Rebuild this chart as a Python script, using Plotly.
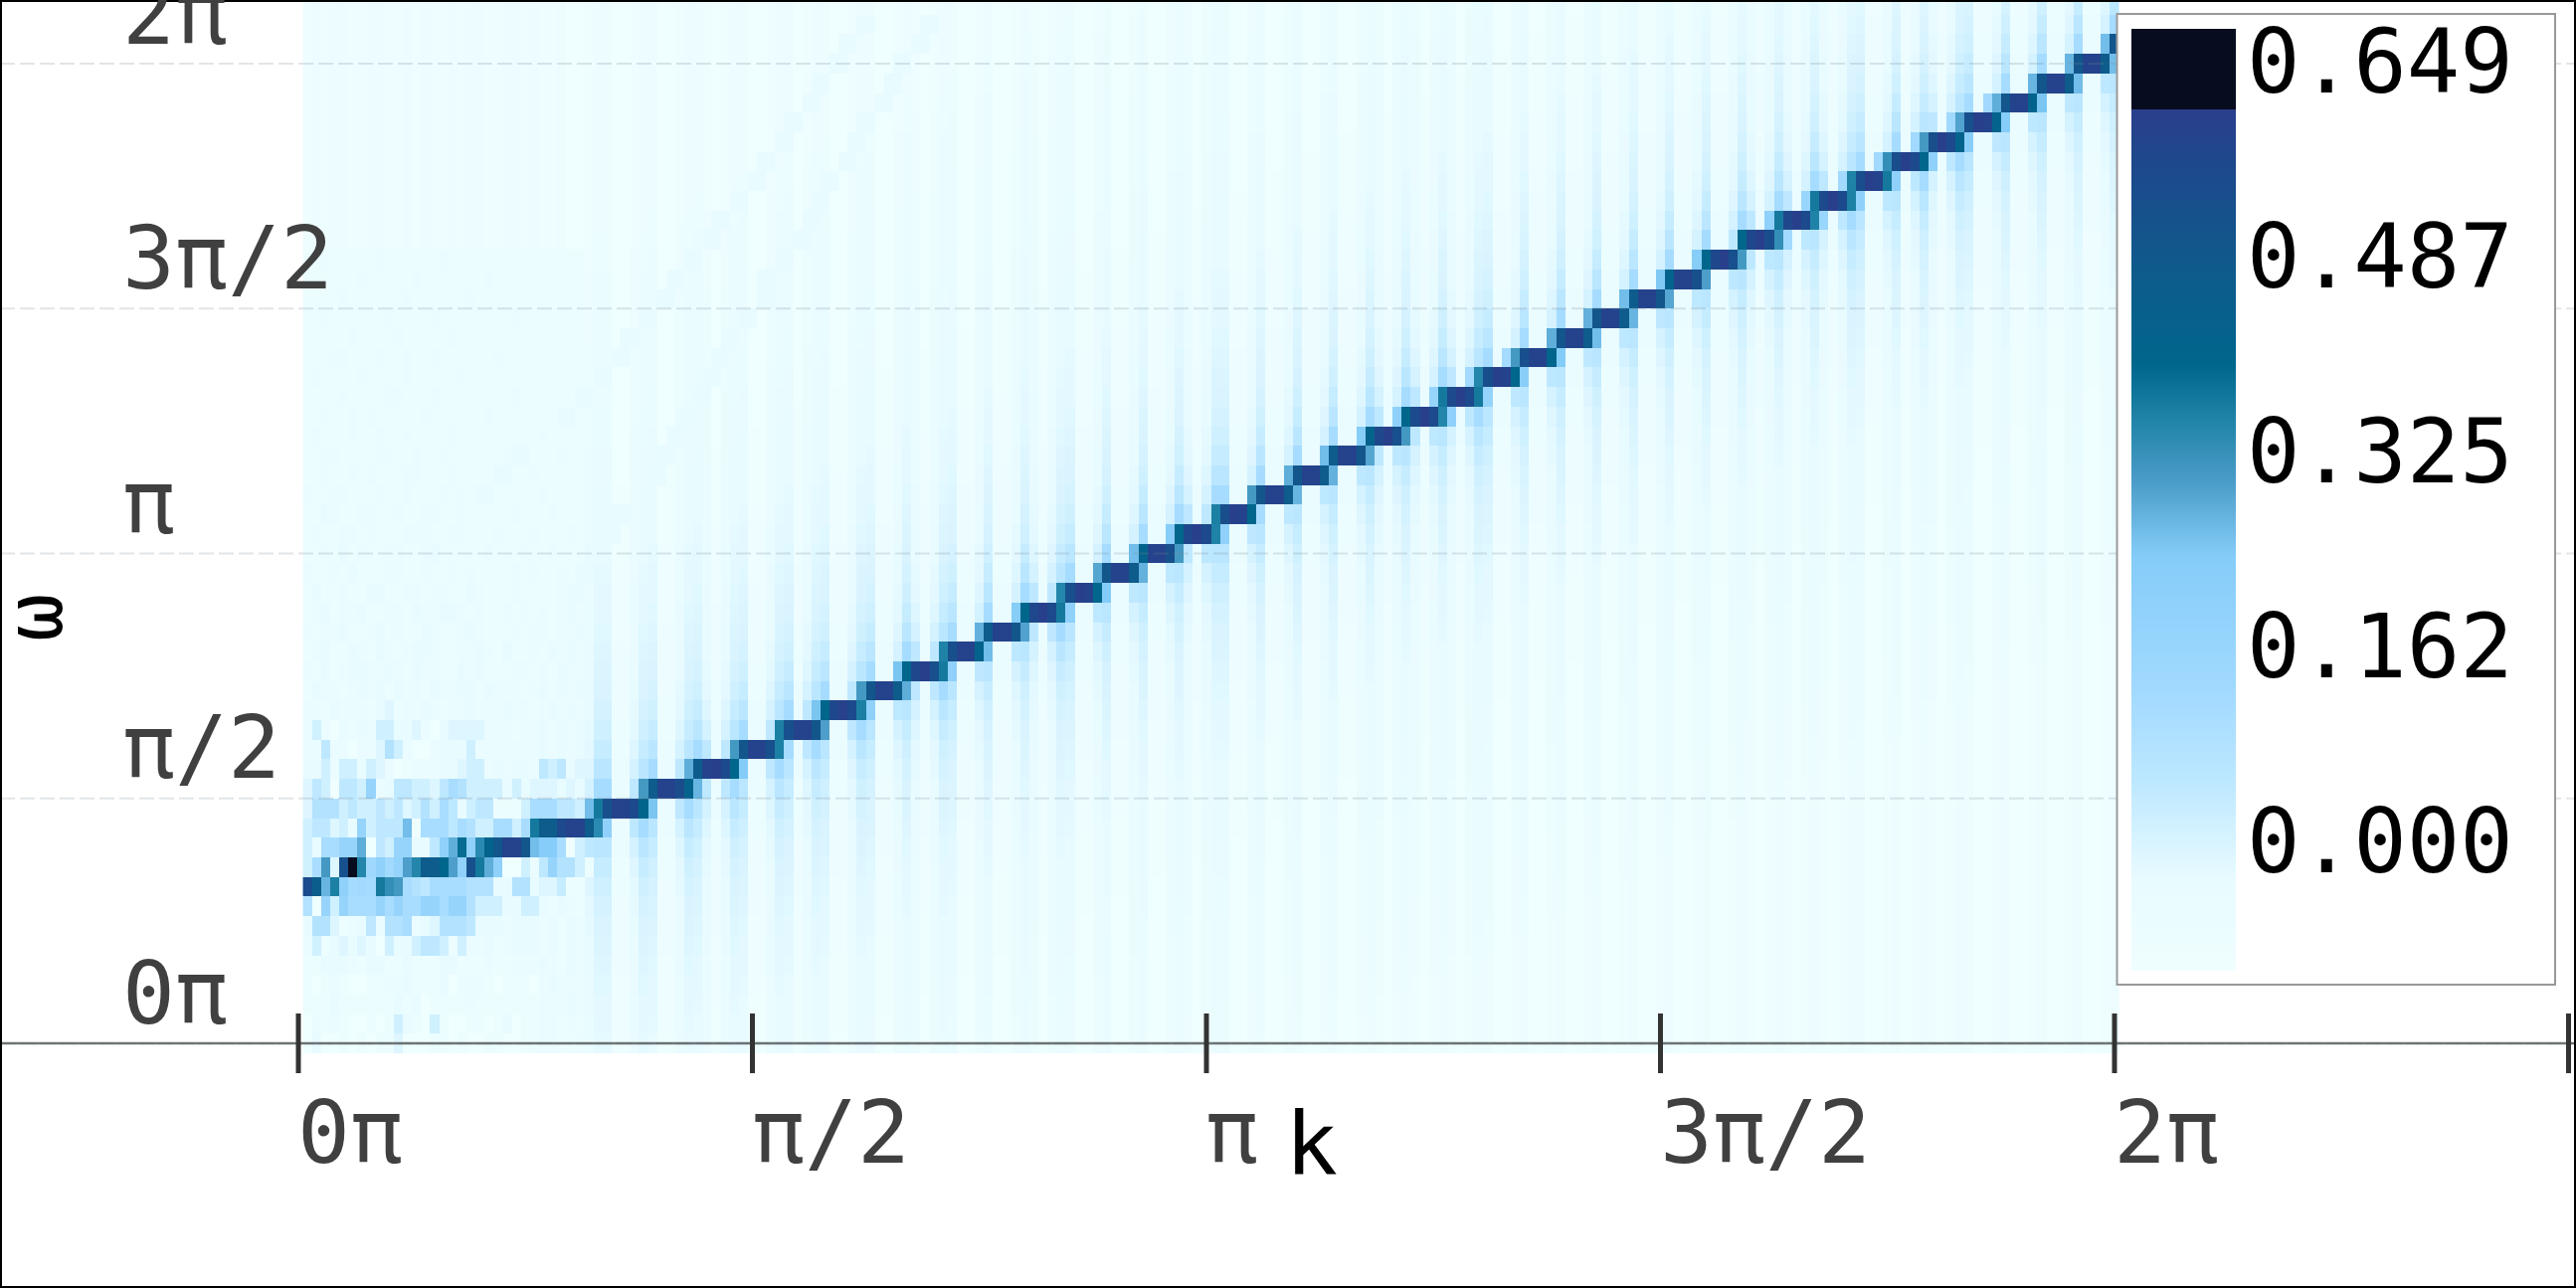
import math
import plotly.graph_objects as go

PI = math.pi
N_COLS = 200
N_ROWS = 54
DK = 2 * PI / 200
DW = 2 * PI / 50

# level codes for the pale cells, read through the colour bar
level_values = [-0.105, -0.07, -0.05, -0.03, -0.01, 0.02, 0.05, 0.08, 0.11, 0.17]

# ---- ridge: row, first column, values of consecutive cells
ridge_rows = [8, 9, 10, 10, 11, 11, 12, 13, 14, 15, 16, 17, 18, 19, 20, 21, 22, 23, 24, 25, 26, 27, 28, 29, 30,
              31, 32, 33, 34, 35, 36, 37, 38, 39, 40, 41, 42, 43, 44, 45, 46, 47, 48, 49, 50, 51]
ridge_starts = [0, 2, 6, 15, 11, 25, 31, 37, 42, 47, 52, 56, 61, 65, 70, 74, 78, 83, 87, 91, 95, 100, 104, 108, 112,
                116, 120, 124, 128, 132, 137, 141, 145, 149, 153, 158, 161, 165, 169, 173, 177, 181, 185, 190, 194, 198]
ridge_values = [
    [.55, .46, .27, .36, .20, .12, .13, .12, .37, .33, .31],
    [.31, -.01, .53, .645, .35, .14, .20, .13, .18, .30, .35, .47, .47, .40, .30, .20, .53, .37, .28, .20],
    [.28],
    [.20, .28, .39, .20, .34, .42, .50, .59, .59, .50, .26, .23, .23],
    [.26],
    [.37, .47, .47, .56, .59, .59, .47, .34, .20],
    [.26, .37, .53, .59, .59, .56, .41, .25],
    [.31, .47, .59, .59, .55, .42, .27],
    [.28, .47, .59, .605, .56, .40, .24],
    [.31, .50, .59, .59, .53, .36],
    [.36, .53, .59, .59, .50, .30],
    [.25, .41, .57, .60, .56, .36, .20],
    [.31, .50, .59, .59, .47, .28],
    [.25, .40, .57, .605, .53, .37, .20],
    [.355, .53, .59, .59, .42, .26],
    [.275, .47, .59, .59, .50, .295],
    [.235, .40, .57, .605, .558, .37, .20],
    [.35, .53, .605, .59, .40, .24],
    [.29, .50, .59, .59, .47, .275],
    [.26, .42, .59, .59, .53, .31],
    [.235, .40, .57, .605, .558, .355, .20],
    [.36, .54, .605, .59, .40],
    [.31, .50, .59, .59, .47, .27],
    [.28, .50, .59, .59, .47, .275],
    [.26, .47, .59, .59, .50, .29],
    [.235, .42, .57, .605, .53, .31],
    [.20, .40, .558, .605, .558, .35, .20],
    [.17, .37, .558, .605, .558, .37, .18],
    [.13, .35, .54, .605, .59, .40, .22],
    [.12, .31, .53, .59, .59, .41, .24],
    [.28, .50, .59, .59, .47, .26],
    [.275, .50, .59, .59, .47, .27],
    [.26, .47, .59, .59, .50, .29],
    [.245, .42, .59, .59, .53, .30],
    [.235, .40, .57, .605, .53, .31],
    [.40, .57, .605, .54, .33, .13],
    [.20, .37, .57, .605, .558, .355, .16],
    [.16, .37, .558, .605, .558, .36, .20],
    [.13, .355, .54, .605, .59, .37, .20],
    [.13, .33, .54, .605, .558, .40, .20],
    [.13, .31, .54, .605, .558, .42, .22],
    [.13, .295, .53, .605, .59, .42, .23],
    [.13, .28, .50, .59, .59, .42, .25],
    [.27, .50, .59, .59, .47, .26],
    [.27, .50, .59, .59, .47, .26],
    [.26, .50],
]

# ---- vertical stripes: per column, 0 = pale stripe, 1 = middle, 3 = strong
column_tone = (
    "1313311331" "1313113133" "1133131130" "0133001330" "0133101330"
    "0133013300" "1330013101" "3300130013" "1013300130" "0130013101"
    "3300130013" "0013001310" "1310131013" "3001300130" "0130013001"
    "3001300131" "0131013101" "3300130131" "0133001300" "1300130013"
)

# ---- value by distance (rows) from the ridge, for each stripe tone; last entry holds for farther rows
halo_tone0 = [-.05, -.065, -.07, -.075, -.08, -.08, -.085, -.085, -.09, -.09, -.09, -.09, -.095, -.095, -.095,
              -.095, -.10, -.10, -.10, -.10, -.10, -.10, -.10, -.10, -.10, -.105, -.105, -.105, -.105, -.105]
halo_tone1 = [.05, .01, -.01, -.02, -.025, -.03, -.035, -.04, -.04, -.045, -.045, -.05, -.05, -.055, -.055,
              -.06, -.06, -.065, -.065, -.07, -.07, -.07, -.075, -.075, -.08, -.08, -.085, -.085, -.09, -.09]
halo_tone3 = [.115, .06, .035, .02, .01, .0, -.005, -.01, -.015, -.02, -.02, -.025, -.03, -.03, -.035,
              -.035, -.04, -.04, -.045, -.045, -.05, -.05, -.055, -.055, -.06, -.06, -.065, -.07, -.075, -.08]

# ---- low-k block: level codes per row, from k = first column onward
low_k_rows = [
    "0300101011400011010011001122112",
    "0212100101531051001101301122121",
    "1113111111313011112111111122232",
    "1012100112231113022210111023222",
    "1133321331131113311121122232132",
    "2513434305335665152231233323132",
    "3774123627782347776333233323132",
    "7095988898988998997555335531321",
    "00000000000876888877733773",
    "58010000898920000000000052697751",
    "5388990065993366999000000000805",
    "5664539566650888687558858500000",
    "4777565565645758635661115888665",
    "4650665923665546875555353444343",
    "3352553542012223345523233265634",
    "2262202247520023335222222232323",
    "2520323255334203444422212232323",
    "2213222134122321223222322123232",
    "1322123231322132233132221232323",
    "2131233223213221132311122121322",
    "1231132132123321122321311213232",
    "2122311231211321123211121221223",
    "1231223112213223321211212121232",
    "1311211331122122113211121111212",
    "2112131112211211212111121211211",
    "1121312112211231111121112112111",
    "1211221211122211221112111211121",
    "1132112211211221121111121112111",
    "2112211121121112121121111121111",
    "1121121211122111211112111211111",
    "1122111122112112111111211111211",
    "1211121121121111211111111121111",
    "1121121211111211111121111111111",
    "1111211112211121111111121111111",
    "1211112111121111121111111111111",
    "1112211121121121111112111111111",
    "1111121111211111211111111111111",
    "1121111112111121111111121111111",
    "1111211111121111112111111111111",
    "1111112111112111111121111111111",
    "1121111121111112111111111111111",
]

# ---- faint secondary lines in the upper left
ghost_a_rows = [52, 51, 50, 49, 48, 47, 46, 45, 44, 43, 42, 41, 40, 39, 38, 37, 36, 35, 34, 33, 32, 30, 29, 28]
ghost_a_cols = [61, 59, 58, 56, 55, 53, 52, 50, 49, 47, 45, 44, 42, 40, 39, 37, 35, 34, 32, 30, 28, 23, 21, 19]
ghost_b_rows = [52, 51, 50, 49, 48, 47, 46, 45, 44, 43, 42, 41, 40, 39, 38, 37, 36, 35, 34, 33, 32, 31, 30, 29,
                27, 26, 25, 24, 23]
ghost_b_cols = [68, 67, 65, 64, 63, 61, 60, 59, 57, 56, 55, 54, 52, 50, 50, 48, 46, 45, 44, 43, 41, 40, 39, 38,
                34, 33, 31, 30, 29]
ghost_value = -0.03

# ---- ticks and labels
x_tick_values = [0, PI / 2, PI, 3 * PI / 2, 2 * PI, 5 * PI / 2]
x_tick_labels = ["0π", "π/2", "π", "3π/2", "2π"]
y_tick_values = [0, PI / 2, PI, 3 * PI / 2, 2 * PI]
y_tick_labels = ["0π", "π/2", "π", "3π/2", "2π"]
bar_tick_values = [0.0, 0.16225, 0.3245, 0.48675, 0.649]
bar_tick_labels = ["0.000", "0.162", "0.325", "0.487", "0.649"]

Z_MIN = -0.105
Z_MAX = 0.679
colorscale = [
    [0.0, "#effeff"], [0.095, "#e8fbff"], [0.147, "#d4f2ff"], [0.2, "#bde8ff"], [0.291, "#a3daff"],
    [0.441, "#84ccf8"], [0.52, "#4a9cc8"], [0.585, "#2084a8"], [0.644, "#00668c"], [0.749, "#0f5a8c"],
    [0.846, "#1c4a8c"], [0.914, "#2a3f8c"], [0.9145, "#080c1f"], [1.0, "#080c1f"],
]

# ---- assemble the table
best = [(-9, None)] * N_COLS
for row, start, vals in zip(ridge_rows, ridge_starts, ridge_values):
    for j, v in enumerate(vals):
        if v > best[start + j][0]:
            best[start + j] = (v, row)
ridge_row_of_col = [b[1] for b in best]
halo_tables = {"0": halo_tone0, "1": halo_tone1, "3": halo_tone3}

z = []
for r in range(N_ROWS):
    row_cells = []
    for c in range(N_COLS):
        d = abs(r - ridge_row_of_col[c])
        table = halo_tables[column_tone[c]]
        row_cells.append(table[min(d, len(table)) - 1] if d > 0 else table[0])
    z.append(row_cells)
for r, digits in enumerate(low_k_rows):
    for c, ch in enumerate(digits):
        z[r][c] = level_values[int(ch)]
for rows, cols in ((ghost_a_rows, ghost_a_cols), (ghost_b_rows, ghost_b_cols)):
    for r, c in zip(rows, cols):
        z[r][c] = ghost_value
        z[r][c + 1] = ghost_value
for row, start, vals in zip(ridge_rows, ridge_starts, ridge_values):
    for j, v in enumerate(vals):
        z[row][start + j] = v

W, H = 2590, 1295
X0, XU = 300.0, 456.5      # px of k=0, px per pi/2
Y0, YU = 1049.0, 246.25    # px of w=0, px per pi/2
x_range = [-X0 / XU * PI / 2, (W - X0) / XU * PI / 2]
y_range = [-(H - Y0) / YU * PI / 2, Y0 / YU * PI / 2]
MONO = "DejaVu Sans Mono"
LABEL = "#404040"

fig = go.Figure(go.Heatmap(
    z=z,
    x=[(i + 1) * DK for i in range(N_COLS)],
    y=[i * DW for i in range(N_ROWS)],
    zmin=Z_MIN, zmax=Z_MAX, colorscale=colorscale, zsmooth=False, hoverongaps=False,
    colorbar=dict(
        x=2143 / W, xanchor="left", xpad=0, y=1 - 29 / H, yanchor="top", ypad=0,
        lenmode="pixels", len=947, thicknessmode="pixels", thickness=105,
        outlinewidth=0, borderwidth=0, bgcolor="rgba(0,0,0,0)",
        tickmode="array", tickvals=bar_tick_values, ticktext=[""] * 5, ticks="",
    ),
))

shapes = []
for v in y_tick_values:
    shapes.append(dict(type="line", xref="paper", yref="y", x0=0, x1=1, y0=v, y1=v, layer="above",
                       line=dict(color="rgba(120,135,145,0.22)", width=2, dash="15px,5px")))
shapes.append(dict(type="line", xref="paper", yref="y", x0=0, x1=1, y0=0, y1=0, layer="above",
                   line=dict(color="rgba(80,85,85,0.8)", width=2.5)))
for v in x_tick_values:
    shapes.append(dict(type="line", xref="x", yref="paper", x0=v, x1=v, y0=1 - 1019 / H, y1=1 - 1079 / H,
                       layer="above", line=dict(color="#333333", width=5)))
shapes.append(dict(type="rect", xref="paper", yref="paper", x0=2128.5 / W, x1=2569 / W, y0=1 - 14 / H, y1=1 - 990 / H,
                   layer="above", fillcolor="white", line=dict(color="#999999", width=2)))
shapes.append(dict(type="rect", xref="paper", yref="paper", x0=0, x1=1, y0=0, y1=1, layer="above",
                   line=dict(color="black", width=4)))

annotations = []
for v, t in zip(x_tick_values, x_tick_labels):
    annotations.append(dict(x=v, xref="x", y=1 - 1138 / H, yref="paper", text=t, showarrow=False, xanchor="left",
                            yanchor="middle", xshift=-3, font=dict(family=MONO, size=88, color=LABEL)))
for v, t in zip(y_tick_values, y_tick_labels):
    annotations.append(dict(x=121 / W, xref="paper", y=v, yref="y", text=t, showarrow=False, xanchor="left",
                            yanchor="middle", yshift=51, font=dict(family=MONO, size=88, color=LABEL)))
for v, t in zip(bar_tick_values, bar_tick_labels):
    bar_y = 26 + (Z_MAX - v) / (Z_MAX - Z_MIN) * 947
    annotations.append(dict(x=2257 / W, xref="paper", y=1 - bar_y / H, yref="paper", text=t, showarrow=False,
                            xanchor="left", yanchor="middle", font=dict(family=MONO, size=89, color="black")))
annotations.append(dict(x=1318 / W, xref="paper", y=1 - 1149 / H, yref="paper", text="k", showarrow=False,
                        xanchor="center", yanchor="middle", font=dict(family=MONO, size=88, color="black")))
annotations.append(dict(x=34 / W, xref="paper", y=1 - 621 / H, yref="paper", text="ω", showarrow=False,
                        textangle=-90, xanchor="center", yanchor="middle",
                        font=dict(family=MONO, size=80, color="black")))

fig.update_layout(
    width=W, height=H, margin=dict(l=0, r=0, t=0, b=0, pad=0, autoexpand=False),
    paper_bgcolor="white", plot_bgcolor="white", shapes=shapes, annotations=annotations,
    xaxis=dict(range=x_range, showgrid=False, zeroline=False, showticklabels=False, ticks="", showline=False),
    yaxis=dict(range=y_range, showgrid=False, zeroline=False, showticklabels=False, ticks="", showline=False),
)
fig.write_html("out.html", config={"displayModeBar": False},
               post_script="document.body.style.margin='0';document.body.style.overflow='hidden';")
